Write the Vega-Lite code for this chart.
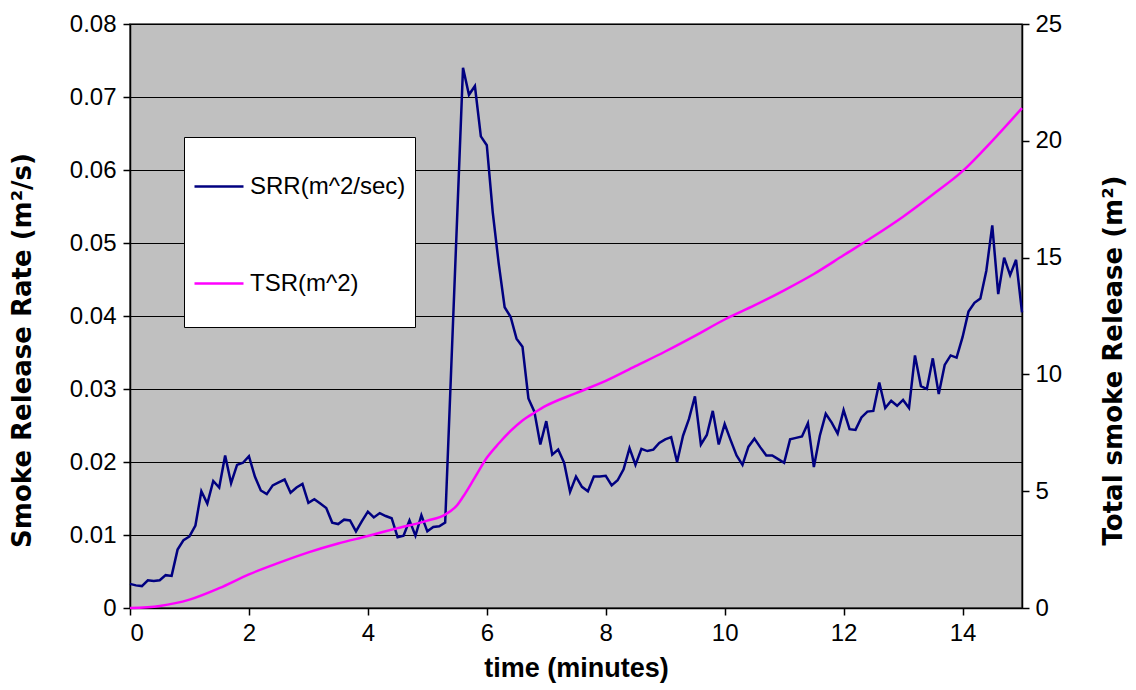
{
  "$schema": "https://vega.github.io/schema/vega-lite/v6.json",
  "width": 892,
  "height": 584,
  "autosize": {"type": "none"},
  "padding": {"left": 130, "top": 24, "right": 114, "bottom": 82},
  "background": "white",
  "config": {
    "view": {"fill": "#C0C0C0", "stroke": "#404040", "strokeWidth": 1.5},
    "font": "Liberation Sans",
    "axis": {
      "labelFont": "Liberation Sans",
      "titleFont": "Liberation Sans",
      "labelColor": "#000",
      "titleColor": "#000",
      "domainColor": "#000",
      "tickColor": "#000",
      "labelFontSize": 24,
      "titleFontSize": 27,
      "titleFontWeight": "bold",
      "tickSize": 7,
      "domainWidth": 1.5,
      "tickWidth": 1.5
    }
  },
  "datasets": {
    "srr": [
      {"t":0,"series":"SRR(m^2/sec)","v":0.0033},{"t":0.1,"series":"SRR(m^2/sec)","v":0.0031},{"t":0.2,"series":"SRR(m^2/sec)","v":0.0030},{"t":0.3,"series":"SRR(m^2/sec)","v":0.0038},{"t":0.4,"series":"SRR(m^2/sec)","v":0.0037},
      {"t":0.5,"series":"SRR(m^2/sec)","v":0.0038},{"t":0.6,"series":"SRR(m^2/sec)","v":0.0045},{"t":0.7,"series":"SRR(m^2/sec)","v":0.0044},{"t":0.8,"series":"SRR(m^2/sec)","v":0.0080},{"t":0.9,"series":"SRR(m^2/sec)","v":0.0093},
      {"t":1.0,"series":"SRR(m^2/sec)","v":0.0098},{"t":1.1,"series":"SRR(m^2/sec)","v":0.0113},{"t":1.2,"series":"SRR(m^2/sec)","v":0.0160},{"t":1.3,"series":"SRR(m^2/sec)","v":0.0143},{"t":1.4,"series":"SRR(m^2/sec)","v":0.0174},
      {"t":1.5,"series":"SRR(m^2/sec)","v":0.0165},{"t":1.6,"series":"SRR(m^2/sec)","v":0.0209},{"t":1.7,"series":"SRR(m^2/sec)","v":0.0171},{"t":1.8,"series":"SRR(m^2/sec)","v":0.0196},{"t":1.9,"series":"SRR(m^2/sec)","v":0.0199},
      {"t":2.0,"series":"SRR(m^2/sec)","v":0.0208},{"t":2.1,"series":"SRR(m^2/sec)","v":0.0180},{"t":2.2,"series":"SRR(m^2/sec)","v":0.0161},{"t":2.3,"series":"SRR(m^2/sec)","v":0.0156},{"t":2.4,"series":"SRR(m^2/sec)","v":0.0168},
      {"t":2.5,"series":"SRR(m^2/sec)","v":0.0172},{"t":2.6,"series":"SRR(m^2/sec)","v":0.0176},{"t":2.7,"series":"SRR(m^2/sec)","v":0.0158},{"t":2.8,"series":"SRR(m^2/sec)","v":0.0165},{"t":2.9,"series":"SRR(m^2/sec)","v":0.0170},
      {"t":3.0,"series":"SRR(m^2/sec)","v":0.0144},{"t":3.1,"series":"SRR(m^2/sec)","v":0.0149},{"t":3.2,"series":"SRR(m^2/sec)","v":0.0143},{"t":3.3,"series":"SRR(m^2/sec)","v":0.0137},{"t":3.4,"series":"SRR(m^2/sec)","v":0.0117},
      {"t":3.5,"series":"SRR(m^2/sec)","v":0.0115},{"t":3.6,"series":"SRR(m^2/sec)","v":0.0121},{"t":3.7,"series":"SRR(m^2/sec)","v":0.0120},{"t":3.8,"series":"SRR(m^2/sec)","v":0.0105},{"t":3.9,"series":"SRR(m^2/sec)","v":0.0119},
      {"t":4.0,"series":"SRR(m^2/sec)","v":0.0132},{"t":4.1,"series":"SRR(m^2/sec)","v":0.0124},{"t":4.2,"series":"SRR(m^2/sec)","v":0.0130},{"t":4.3,"series":"SRR(m^2/sec)","v":0.0126},{"t":4.4,"series":"SRR(m^2/sec)","v":0.0123},
      {"t":4.5,"series":"SRR(m^2/sec)","v":0.0097},{"t":4.6,"series":"SRR(m^2/sec)","v":0.0099},{"t":4.7,"series":"SRR(m^2/sec)","v":0.0120},{"t":4.8,"series":"SRR(m^2/sec)","v":0.0099},{"t":4.9,"series":"SRR(m^2/sec)","v":0.0127},
      {"t":5.0,"series":"SRR(m^2/sec)","v":0.0105},{"t":5.1,"series":"SRR(m^2/sec)","v":0.0111},{"t":5.2,"series":"SRR(m^2/sec)","v":0.0112},{"t":5.3,"series":"SRR(m^2/sec)","v":0.0117},{"t":5.4,"series":"SRR(m^2/sec)","v":0.0325},
      {"t":5.5,"series":"SRR(m^2/sec)","v":0.0532},{"t":5.6,"series":"SRR(m^2/sec)","v":0.0740},{"t":5.7,"series":"SRR(m^2/sec)","v":0.0703},{"t":5.8,"series":"SRR(m^2/sec)","v":0.0715},{"t":5.9,"series":"SRR(m^2/sec)","v":0.0646},
      {"t":6.0,"series":"SRR(m^2/sec)","v":0.0634},{"t":6.1,"series":"SRR(m^2/sec)","v":0.0542},{"t":6.2,"series":"SRR(m^2/sec)","v":0.0472},{"t":6.3,"series":"SRR(m^2/sec)","v":0.0412},{"t":6.4,"series":"SRR(m^2/sec)","v":0.0399},
      {"t":6.5,"series":"SRR(m^2/sec)","v":0.0369},{"t":6.6,"series":"SRR(m^2/sec)","v":0.0358},{"t":6.7,"series":"SRR(m^2/sec)","v":0.0287},{"t":6.8,"series":"SRR(m^2/sec)","v":0.0269},{"t":6.9,"series":"SRR(m^2/sec)","v":0.0224},
      {"t":7.0,"series":"SRR(m^2/sec)","v":0.0256},{"t":7.1,"series":"SRR(m^2/sec)","v":0.0210},{"t":7.2,"series":"SRR(m^2/sec)","v":0.0217},{"t":7.3,"series":"SRR(m^2/sec)","v":0.0199},{"t":7.4,"series":"SRR(m^2/sec)","v":0.0159},
      {"t":7.5,"series":"SRR(m^2/sec)","v":0.0180},{"t":7.6,"series":"SRR(m^2/sec)","v":0.0166},{"t":7.7,"series":"SRR(m^2/sec)","v":0.0160},{"t":7.8,"series":"SRR(m^2/sec)","v":0.0180},{"t":7.9,"series":"SRR(m^2/sec)","v":0.0180},
      {"t":8.0,"series":"SRR(m^2/sec)","v":0.0181},{"t":8.1,"series":"SRR(m^2/sec)","v":0.0168},{"t":8.2,"series":"SRR(m^2/sec)","v":0.0175},{"t":8.3,"series":"SRR(m^2/sec)","v":0.0190},{"t":8.4,"series":"SRR(m^2/sec)","v":0.0219},
      {"t":8.5,"series":"SRR(m^2/sec)","v":0.0196},{"t":8.6,"series":"SRR(m^2/sec)","v":0.0218},{"t":8.7,"series":"SRR(m^2/sec)","v":0.0215},{"t":8.8,"series":"SRR(m^2/sec)","v":0.0217},{"t":8.9,"series":"SRR(m^2/sec)","v":0.0226},
      {"t":9.0,"series":"SRR(m^2/sec)","v":0.0231},{"t":9.1,"series":"SRR(m^2/sec)","v":0.0234},{"t":9.2,"series":"SRR(m^2/sec)","v":0.0200},{"t":9.3,"series":"SRR(m^2/sec)","v":0.0236},{"t":9.4,"series":"SRR(m^2/sec)","v":0.0259},
      {"t":9.5,"series":"SRR(m^2/sec)","v":0.0290},{"t":9.6,"series":"SRR(m^2/sec)","v":0.0224},{"t":9.7,"series":"SRR(m^2/sec)","v":0.0237},{"t":9.8,"series":"SRR(m^2/sec)","v":0.0270},{"t":9.9,"series":"SRR(m^2/sec)","v":0.0224},
      {"t":10.0,"series":"SRR(m^2/sec)","v":0.0252},{"t":10.1,"series":"SRR(m^2/sec)","v":0.0230},{"t":10.2,"series":"SRR(m^2/sec)","v":0.0209},{"t":10.3,"series":"SRR(m^2/sec)","v":0.0196},{"t":10.4,"series":"SRR(m^2/sec)","v":0.0221},
      {"t":10.5,"series":"SRR(m^2/sec)","v":0.0232},{"t":10.6,"series":"SRR(m^2/sec)","v":0.0220},{"t":10.7,"series":"SRR(m^2/sec)","v":0.0209},{"t":10.8,"series":"SRR(m^2/sec)","v":0.0209},{"t":10.9,"series":"SRR(m^2/sec)","v":0.0204},
      {"t":11.0,"series":"SRR(m^2/sec)","v":0.0199},{"t":11.1,"series":"SRR(m^2/sec)","v":0.0231},{"t":11.2,"series":"SRR(m^2/sec)","v":0.0233},{"t":11.3,"series":"SRR(m^2/sec)","v":0.0235},{"t":11.4,"series":"SRR(m^2/sec)","v":0.0253},
      {"t":11.5,"series":"SRR(m^2/sec)","v":0.0193},{"t":11.6,"series":"SRR(m^2/sec)","v":0.0236},{"t":11.7,"series":"SRR(m^2/sec)","v":0.0266},{"t":11.8,"series":"SRR(m^2/sec)","v":0.0254},{"t":11.9,"series":"SRR(m^2/sec)","v":0.0239},
      {"t":12.0,"series":"SRR(m^2/sec)","v":0.0271},{"t":12.1,"series":"SRR(m^2/sec)","v":0.0245},{"t":12.2,"series":"SRR(m^2/sec)","v":0.0244},{"t":12.3,"series":"SRR(m^2/sec)","v":0.0261},{"t":12.4,"series":"SRR(m^2/sec)","v":0.0269},
      {"t":12.5,"series":"SRR(m^2/sec)","v":0.0270},{"t":12.6,"series":"SRR(m^2/sec)","v":0.0309},{"t":12.7,"series":"SRR(m^2/sec)","v":0.0274},{"t":12.8,"series":"SRR(m^2/sec)","v":0.0284},{"t":12.9,"series":"SRR(m^2/sec)","v":0.0277},
      {"t":13.0,"series":"SRR(m^2/sec)","v":0.0285},{"t":13.1,"series":"SRR(m^2/sec)","v":0.0274},{"t":13.2,"series":"SRR(m^2/sec)","v":0.0346},{"t":13.3,"series":"SRR(m^2/sec)","v":0.0304},{"t":13.4,"series":"SRR(m^2/sec)","v":0.0300},
      {"t":13.5,"series":"SRR(m^2/sec)","v":0.0342},{"t":13.6,"series":"SRR(m^2/sec)","v":0.0293},{"t":13.7,"series":"SRR(m^2/sec)","v":0.0333},{"t":13.8,"series":"SRR(m^2/sec)","v":0.0346},{"t":13.9,"series":"SRR(m^2/sec)","v":0.0343},
      {"t":14.0,"series":"SRR(m^2/sec)","v":0.0371},{"t":14.1,"series":"SRR(m^2/sec)","v":0.0406},{"t":14.2,"series":"SRR(m^2/sec)","v":0.0418},{"t":14.3,"series":"SRR(m^2/sec)","v":0.0424},{"t":14.4,"series":"SRR(m^2/sec)","v":0.0462},
      {"t":14.5,"series":"SRR(m^2/sec)","v":0.0524},{"t":14.6,"series":"SRR(m^2/sec)","v":0.0430},{"t":14.7,"series":"SRR(m^2/sec)","v":0.0480},{"t":14.8,"series":"SRR(m^2/sec)","v":0.0456},{"t":14.9,"series":"SRR(m^2/sec)","v":0.0477},
      {"t":15.0,"series":"SRR(m^2/sec)","v":0.0405}
    ],
    "tsr": [
      {"t":0,"series":"TSR(m^2)","v":0},{"t":0.5,"series":"TSR(m^2)","v":0.09},{"t":1.0,"series":"TSR(m^2)","v":0.36},{"t":1.5,"series":"TSR(m^2)","v":0.85},
      {"t":2.0,"series":"TSR(m^2)","v":1.44},{"t":2.5,"series":"TSR(m^2)","v":1.93},{"t":3.0,"series":"TSR(m^2)","v":2.38},{"t":3.5,"series":"TSR(m^2)","v":2.76},
      {"t":4.0,"series":"TSR(m^2)","v":3.08},{"t":4.5,"series":"TSR(m^2)","v":3.42},{"t":5.0,"series":"TSR(m^2)","v":3.74},{"t":5.3,"series":"TSR(m^2)","v":4.0},
      {"t":5.5,"series":"TSR(m^2)","v":4.4},{"t":5.6,"series":"TSR(m^2)","v":4.76},{"t":5.8,"series":"TSR(m^2)","v":5.59},{"t":6.0,"series":"TSR(m^2)","v":6.43},
      {"t":6.2,"series":"TSR(m^2)","v":7.04},{"t":6.4,"series":"TSR(m^2)","v":7.58},{"t":6.6,"series":"TSR(m^2)","v":8.03},{"t":6.8,"series":"TSR(m^2)","v":8.36},
      {"t":7.0,"series":"TSR(m^2)","v":8.66},{"t":7.5,"series":"TSR(m^2)","v":9.2},{"t":8.0,"series":"TSR(m^2)","v":9.72},{"t":8.5,"series":"TSR(m^2)","v":10.35},
      {"t":9.0,"series":"TSR(m^2)","v":10.98},{"t":9.5,"series":"TSR(m^2)","v":11.65},{"t":10.0,"series":"TSR(m^2)","v":12.35},{"t":10.5,"series":"TSR(m^2)","v":12.95},
      {"t":11.0,"series":"TSR(m^2)","v":13.6},{"t":11.5,"series":"TSR(m^2)","v":14.3},{"t":12.0,"series":"TSR(m^2)","v":15.1},{"t":12.5,"series":"TSR(m^2)","v":15.9},
      {"t":13.0,"series":"TSR(m^2)","v":16.75},{"t":13.5,"series":"TSR(m^2)","v":17.7},{"t":14.0,"series":"TSR(m^2)","v":18.7},{"t":14.5,"series":"TSR(m^2)","v":20.0},
      {"t":15.0,"series":"TSR(m^2)","v":21.4}
    ]
  },
  "layer": [
    {
      "data": {"name": "srr"},
      "mark": {"type": "line", "strokeWidth": 2.5},
      "encoding": {
        "x": {
          "field": "t", "type": "quantitative",
          "scale": {"domain": [0, 15], "nice": false, "zero": false},
          "axis": {"values": [0, 2, 4, 6, 8, 10, 12, 14], "format": "d", "title": "time (minutes)", "grid": false, "labelPadding": 6, "titleY": 60, "titleBaseline": "middle"}
        },
        "y": {
          "field": "v", "type": "quantitative",
          "scale": {"domain": [0, 0.08], "nice": false},
          "axis": {
            "values": [0, 0.01, 0.02, 0.03, 0.04, 0.05, 0.06, 0.07, 0.08],
            "title": "Smoke Release Rate (m²/s)",
            "grid": true, "gridColor": "#000", "gridOpacity": 1, "gridWidth": 1,
            "labelPadding": 7,
            "labelExpr": "datum.value == 0 ? '0' : format(datum.value, '.2f')",
            "titleFont": "DejaVu Sans", "titleFontSize": 26,
            "titleX": -108, "titleY": 326, "titleAngle": -90, "titleBaseline": "middle", "titleAlign": "center"
          }
        },
        "color": {
          "field": "series", "type": "nominal",
          "scale": {"domain": ["SRR(m^2/sec)", "TSR(m^2)"], "range": ["#000080", "#FF00FF"]},
          "legend": {
            "orient": "none", "legendX": 54, "legendY": 113,
            "title": " ", "titleFontSize": 6, "titlePadding": 0,
            "fillColor": "#FFFFFF", "strokeColor": "#000000", "padding": 9,
            "symbolType": "stroke", "symbolSize": 2401, "symbolStrokeWidth": 2.5,
            "labelFontSize": 24, "labelFont": "Liberation Sans", "labelColor": "#000", "labelOffset": 5,
            "clipHeight": 69, "rowPadding": 28
          }
        }
      }
    },
    {
      "data": {"name": "tsr"},
      "mark": {"type": "line", "strokeWidth": 2.5, "interpolate": "monotone"},
      "encoding": {
        "x": {"field": "t", "type": "quantitative"},
        "y": {
          "field": "v", "type": "quantitative",
          "scale": {"domain": [0, 25], "nice": false},
          "axis": {
            "orient": "right", "values": [0, 5, 10, 15, 20, 25], "grid": false,
            "title": "Total smoke Release (m²)", "labelPadding": 6,
            "titleFont": "DejaVu Sans", "titleFontSize": 26,
            "titleX": 91, "titleY": 336, "titleAngle": -90, "titleBaseline": "middle", "titleAlign": "center"
          }
        },
        "color": {"field": "series", "type": "nominal"}
      }
    }
  ],
  "resolve": {"scale": {"y": "independent"}}
}
